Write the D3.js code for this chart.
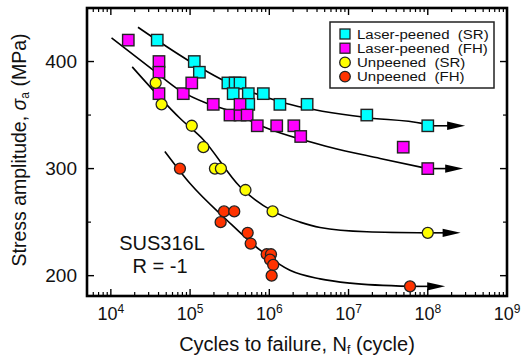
<!DOCTYPE html>
<html><head><meta charset="utf-8">
<script src="https://cdn.jsdelivr.net/npm/d3@7"></script>
<style>
html,body{margin:0;padding:0;background:#fff;}
svg{display:block;font-family:"Liberation Sans",Arial,sans-serif;}
</style></head>
<body>
<svg id="chart" width="523" height="357"></svg>
<script>
// ---- data ----
const seriesNames = ["Laser-peened  (SR)", "Laser-peened  (FH)", "Unpeened  (SR)", "Unpeened  (FH)"];
const seriesColors = ["#00ffff", "#ff00ff", "#ffff00", "#ff3300"];
const seriesShapes = ["square", "square", "circle", "circle"];

const lpSR_N = [3.85e4, 1.13e5, 1.31e5, 3.0e5, 3.7e5, 4.27e5, 3.5e5, 5.43e5, 5.5e5, 8.4e5, 1.36e6, 3.0e6, 1.7e7, 1e8];
const lpSR_S = [420, 400, 390, 380, 380, 380, 370, 370, 360, 370, 360, 360, 350, 340];

const lpFH_N = [1.66e4, 4.05e4, 4.05e4, 4.05e4, 8.2e4, 1.05e5, 1.96e5, 3.19e5, 4.27e5, 4.27e5, 5.25e5, 7.05e5, 1.24e6, 2.04e6, 2.49e6, 4.9e7, 1e8];
const lpFH_S = [420, 400, 390, 370, 370, 380, 360, 350, 350, 360, 350, 340, 340, 340, 330, 320, 300];

const upSR_N = [3.68e4, 4.37e4, 1.05e5, 1.47e5, 2.06e5, 2.45e5, 5.0e5, 1.1e6, 1e8];
const upSR_S = [380, 360, 340, 320, 300, 300, 280, 260, 240];

const upFH_N = [7.45e4, 2.43e5, 2.68e5, 3.61e5, 5.33e5, 5.82e5, 9.27e5, 1.05e6, 1.02e6, 1.12e6, 1.07e6, 5.97e7];
const upFH_S = [300, 250, 260, 260, 240, 230, 220, 220, 215, 210, 200, 190];

// S-N fitted curves
const lpSR_curveN = [2.2e4, 9.5e4, 2.4e5, 1.6e6, 1.54e7, 8.8e7, 1e8];
const lpSR_curveS = [432, 401, 384, 361, 348, 342, 340];
const lpFH_curveN = [1.02e4, 3.43e4, 7.45e4, 1.62e5, 2.9e5, 8.4e5, 5.83e6, 2.5e7, 1e8];
const lpFH_curveS = [422, 392, 373, 361, 355, 339, 320, 309.5, 300];
const upSR_curveN = [1.86e4, 7.45e4, 1.47e5, 4.27e5, 1.12e6, 2.44e6, 4.37e6, 1.7e7, 1e8];
const upSR_curveS = [395, 347, 327, 283, 260, 250, 245, 241, 240];
const upFH_curveN = [4.8e4, 1.0e5, 2.9e5, 7.6e5, 1.82e6, 4.37e6, 1.05e7, 5.97e7];
const upFH_curveS = [316, 286, 252, 224, 205, 197, 193, 190];

// run-out arrows: start and tip (cycles)
const arrowStartN = [1e8, 1e8, 1e8, 5.97e7];
const arrowTipN = [2.96e8, 2.8e8, 2.6e8, 1.66e8];
const arrowS = [340, 300, 240, 190];

const xTickExps = [4, 5, 6, 7, 8, 9];
const yTicks = [200, 300, 400];
const yMinorTicks = [250, 350, 450];

// ---- drawing ----
const svg = d3.select("#chart");
const L = 87, R = 507, T = 8, B = 296;
const x = d3.scaleLog().domain([5000, 1e9]).range([L, R]);
const y = d3.scaleLinear().domain([181, 450]).range([B, T]);

svg.append("clipPath").attr("id", "clip")
  .append("rect").attr("x", L).attr("y", T).attr("width", R - L).attr("height", B - T);

// ticks
const g = svg.append("g");
const xMinor = [];
for (let d = 3; d <= 8; d++) for (let k = 2; k <= 9; k++) {
  const v = k * Math.pow(10, d);
  if (v >= 5000 && v < 1e9) xMinor.push(v);
}
xMinor.forEach(v => {
  g.append("line").attr("x1", x(v)).attr("x2", x(v)).attr("y1", B).attr("y2", B - 4).attr("stroke", "#000").attr("stroke-width", 1.2);
  g.append("line").attr("x1", x(v)).attr("x2", x(v)).attr("y1", T).attr("y2", T + 4).attr("stroke", "#000").attr("stroke-width", 1.2);
});
xTickExps.slice(0, -1).forEach(e => {
  const v = Math.pow(10, e);
  g.append("line").attr("x1", x(v)).attr("x2", x(v)).attr("y1", B).attr("y2", B - 7).attr("stroke", "#000").attr("stroke-width", 1.4);
  g.append("line").attr("x1", x(v)).attr("x2", x(v)).attr("y1", T).attr("y2", T + 7).attr("stroke", "#000").attr("stroke-width", 1.4);
});
yTicks.forEach(v => {
  g.append("line").attr("x1", L).attr("x2", L + 7).attr("y1", y(v)).attr("y2", y(v)).attr("stroke", "#000").attr("stroke-width", 1.4);
  g.append("line").attr("x1", R).attr("x2", R - 7).attr("y1", y(v)).attr("y2", y(v)).attr("stroke", "#000").attr("stroke-width", 1.4);
});
yMinorTicks.forEach(v => {
  g.append("line").attr("x1", L).attr("x2", L + 4).attr("y1", y(v)).attr("y2", y(v)).attr("stroke", "#000").attr("stroke-width", 1.2);
  g.append("line").attr("x1", R).attr("x2", R - 4).attr("y1", y(v)).attr("y2", y(v)).attr("stroke", "#000").attr("stroke-width", 1.2);
});

// tick labels
xTickExps.forEach(e => {
  const t = svg.append("text").attr("x", x(Math.pow(10, e))).attr("y", 320)
    .attr("text-anchor", "middle").attr("font-size", 18).attr("fill", "#111");
  t.append("tspan").text("10");
  t.append("tspan").attr("font-size", 12).attr("dy", -7).text(String(e));
});
yTicks.forEach(v => {
  svg.append("text").attr("x", 77).attr("y", y(v) + 6.8).attr("text-anchor", "end")
    .attr("font-size", 19).attr("fill", "#111").text(v);
});

// axis titles
const xt = svg.append("text").attr("x", 297).attr("y", 351).attr("text-anchor", "middle")
  .attr("font-size", 20).attr("fill", "#111");
xt.append("tspan").text("Cycles to failure, N");
xt.append("tspan").attr("font-size", 12).attr("dy", 3).text("f");
xt.append("tspan").attr("dy", -3).text(" (cycle)");

const yt = svg.append("text").attr("transform", "translate(26,150) rotate(-90)").attr("text-anchor", "middle")
  .attr("font-size", 19.5).attr("fill", "#111");
yt.append("tspan").text("Stress amplitude, ");
yt.append("tspan").attr("font-style", "italic").text("σ");
yt.append("tspan").attr("font-size", 12).attr("dy", 3).text("a");
yt.append("tspan").attr("dy", -3).text(" (MPa)");

// annotation
svg.append("text").attr("x", 162).attr("y", 250).attr("text-anchor", "middle").attr("font-size", 20).attr("fill", "#111").text("SUS316L");
svg.append("text").attr("x", 160).attr("y", 273).attr("text-anchor", "middle").attr("font-size", 20).attr("fill", "#111").text("R = -1");

// curves
const curvesN = [lpSR_curveN, lpFH_curveN, upSR_curveN, upFH_curveN];
const curvesS = [lpSR_curveS, lpFH_curveS, upSR_curveS, upFH_curveS];
const line = d3.line().x(d => x(d[0])).y(d => y(d[1])).curve(d3.curveMonotoneX);
const plot = svg.append("g").attr("clip-path", "url(#clip)");
curvesN.forEach((ns, i) => {
  plot.append("path").attr("d", line(ns.map((n, j) => [n, curvesS[i][j]])))
    .attr("fill", "none").attr("stroke", "#000").attr("stroke-width", 1.6);
});

// arrows
arrowS.forEach((s, i) => {
  const x0 = x(arrowStartN[i]), x1 = x(arrowTipN[i]), yy = y(s);
  const headLen = 18, headHalf = 4.2;
  plot.append("line").attr("x1", x0).attr("x2", x1 - headLen + 1).attr("y1", yy).attr("y2", yy)
    .attr("stroke", "#000").attr("stroke-width", 1.6);
  plot.append("path").attr("d", `M${x1},${yy}L${x1 - headLen},${yy - headHalf}L${x1 - headLen},${yy + headHalf}Z`)
    .attr("fill", "#000");
});

// markers
const dataN = [lpSR_N, lpFH_N, upSR_N, upFH_N];
const dataS = [lpSR_S, lpFH_S, upSR_S, upFH_S];
dataN.forEach((ns, i) => {
  const gg = svg.append("g");
  ns.forEach((n, j) => {
    const px = x(n), py = y(dataS[i][j]);
    if (seriesShapes[i] === "square") {
      gg.append("rect").attr("x", px - 5.7).attr("y", py - 5.7).attr("width", 11.4).attr("height", 11.4)
        .attr("fill", seriesColors[i]).attr("stroke", "#222").attr("stroke-width", 1.4);
    } else {
      gg.append("circle").attr("cx", px).attr("cy", py).attr("r", 5.5)
        .attr("fill", seriesColors[i]).attr("stroke", "#222").attr("stroke-width", 1.3);
    }
  });
});

// frame
svg.append("rect").attr("x", L).attr("y", T).attr("width", R - L).attr("height", B - T)
  .attr("fill", "none").attr("stroke", "#000").attr("stroke-width", 2.6);

// legend
const lg = svg.append("g");
lg.append("rect").attr("x", 330).attr("y", 22).attr("width", 164).attr("height", 66)
  .attr("fill", "#fff").attr("stroke", "#222").attr("stroke-width", 1.5);
seriesNames.forEach((name, i) => {
  const cy = 34 + i * 14.2;
  if (seriesShapes[i] === "square") {
    lg.append("rect").attr("x", 345 - 5).attr("y", cy - 5).attr("width", 10).attr("height", 10)
      .attr("fill", seriesColors[i]).attr("stroke", "#222").attr("stroke-width", 1.3);
  } else {
    lg.append("circle").attr("cx", 345).attr("cy", cy).attr("r", 5.3)
      .attr("fill", seriesColors[i]).attr("stroke", "#222").attr("stroke-width", 1.3);
  }
  lg.append("text").attr("transform", `translate(357,${cy + 4.6}) scale(1,0.8)`)
    .attr("font-size", 15).attr("fill", "#111")
    .style("white-space", "pre").text(name);
});
</script>
</body></html>
